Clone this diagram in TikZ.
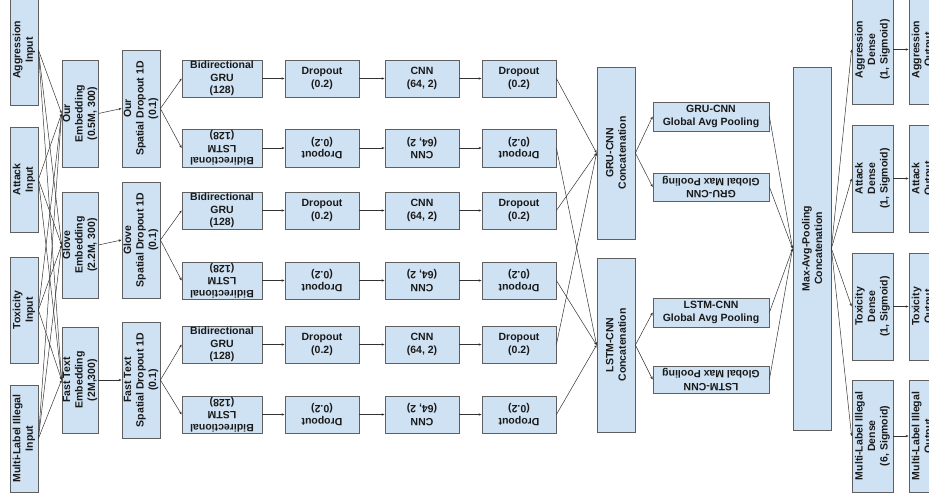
\documentclass[tikz,border=0pt]{standalone}
\usepackage{fontspec}
\setmainfont{Liberation Sans}
\usetikzlibrary{fit,arrows.meta}
\definecolor{boxfill}{HTML}{CFE2F3}
\definecolor{boxline}{HTML}{5F5F5F}
\definecolor{arr}{HTML}{333333}
\newcommand\bx[7]{\node[box, fit={(#2,#3) (#4,#5)}] (#1) {}; \node[txt, rotate=#6] (#1t) at (#1.center) {#7};}
\begin{document}
\begin{tikzpicture}[x=1pt,y=-1pt,
 box/.style={draw=boxline, fill=boxfill, line width=0.8pt, inner sep=0pt, rectangle},
 txt/.style={font=\fontsize{10.5}{12.5}\selectfont\bfseries, align=center, inner sep=0pt, text=black!90},
 con/.style={draw=arr, line width=0.5pt, -{Stealth[length=3pt,width=2.4pt]}}]
\useasboundingbox (0,0) rectangle (929,495);
\clip (0,0) rectangle (929,495);
% inputs
\bx{inAgg}{10}{-5}{38}{105}{90}{Aggression\\Input}
\bx{inAtt}{10}{127}{38}{232}{90}{Attack\\Input}
\bx{inTox}{10}{257}{38}{363}{90}{Toxicity\\Input}
\bx{inMul}{10}{385}{38}{492}{90}{Multi-Label Illegal\\Input}
% embeddings
\bx{embOur}{62}{60}{98}{167}{90}{Our\\Embedding\\(0.5M, 300)}
\bx{embGlo}{62}{192}{98}{298}{90}{Glove\\Embedding\\(2.2M, 300)}
\bx{embFT}{62}{327}{98}{433}{90}{Fast Text\\Embedding\\(2M,300)}
% spatial dropout
\bx{sdOur}{122}{50}{160}{167}{90}{Our\\Spatial Dropout 1D\\(0.1)}
\bx{sdGlo}{122}{182}{160}{298}{90}{Glove\\Spatial Dropout 1D\\(0.1)}
\bx{sdFT}{122}{322}{160}{438}{90}{Fast Text\\Spatial Dropout 1D\\(0.1)}
% rows
\foreach \r/\ya/\yb/\rot/\kind in {1/60/97/0/GRU,2/129/167/180/LSTM,3/192/229/0/GRU,4/262/299/180/LSTM,5/326/363/0/GRU,6/396/433/180/LSTM}{
  \bx{rnn\r}{182}{\ya}{262}{\yb}{\rot}{Bidirectional\\\kind\\(128)}
  \bx{da\r}{285}{\ya}{359}{\yb}{\rot}{Dropout\\(0.2)}
  \bx{cnn\r}{385}{\ya}{459}{\yb}{\rot}{CNN\\(64, 2)}
  \bx{db\r}{482}{\ya}{556}{\yb}{\rot}{Dropout\\(0.2)}
  \draw[con] (rnn\r.east) -- (da\r.west);
  \draw[con] (da\r.east) -- (cnn\r.west);
  \draw[con] (cnn\r.east) -- (db\r.west);
}
% concatenations
\bx{catGRU}{597}{67}{635}{239}{90}{GRU-CNN\\Concatenation}
\bx{catLSTM}{597}{258}{635}{432}{90}{LSTM-CNN\\Concatenation}
% pooling
\bx{pGA}{653}{102}{769}{131}{0}{GRU-CNN\\Global Avg Pooling}
\bx{pGM}{653}{173}{769}{201}{180}{GRU-CNN\\Global Max Pooling}
\bx{pLA}{653}{298}{769}{327}{0}{LSTM-CNN\\Global Avg Pooling}
\bx{pLM}{653}{366}{769}{393}{180}{LSTM-CNN\\Global Max Pooling}
% max-avg
\bx{mac}{793}{67}{831}{430}{90}{Max-Avg-Pooling\\Concatenation}
% dense
\bx{dAgg}{852}{-5}{893}{104}{90}{Aggression\\Dense\\(1, Sigmoid)}
\bx{dAtt}{852}{125}{893}{232}{90}{Attack\\Dense\\(1, Sigmoid)}
\bx{dTox}{852}{253}{893}{360}{90}{Toxicity\\Dense\\(1, Sigmoid)}
\bx{dMul}{852}{380}{893}{492}{90}{Multi-Label Illegal\\Dense\\(6, Sigmoid)}
% outputs
\bx{oAgg}{909}{-5}{937}{104}{90}{Aggression\\Output}
\bx{oAtt}{909}{125}{937}{232}{90}{Attack\\Output}
\bx{oTox}{909}{253}{937}{360}{90}{Toxicity\\Output}
\bx{oMul}{909}{380}{937}{492}{90}{Multi-Label Illegal\\Output}
% connectors
\foreach \i in {inAgg,inAtt,inTox,inMul}{
  \foreach \e in {embOur,embGlo,embFT}{\draw[con] (\i.east) -- (\e.west);}}
\draw[con] (embOur.east) -- (sdOur.west);
\draw[con] (embGlo.east) -- (sdGlo.west);
\draw[con] (embFT.east) -- (sdFT.west);
\draw[con] (sdOur.east) -- (rnn1.west);
\draw[con] (sdOur.east) -- (rnn2.west);
\draw[con] (sdGlo.east) -- (rnn3.west);
\draw[con] (sdGlo.east) -- (rnn4.west);
\draw[con] (sdFT.east) -- (rnn5.west);
\draw[con] (sdFT.east) -- (rnn6.west);
\foreach \r in {1,3,5}{\draw[con] (db\r.east) -- (catGRU.west);}
\foreach \r in {2,4,6}{\draw[con] (db\r.east) -- (catLSTM.west);}
\draw[con] (catGRU.east) -- (pGA.west);
\draw[con] (catGRU.east) -- (pGM.west);
\draw[con] (catLSTM.east) -- (pLA.west);
\draw[con] (catLSTM.east) -- (pLM.west);
\foreach \p in {pGA,pGM,pLA,pLM}{\draw[con] (\p.east) -- (mac.west);}
\foreach \d in {dAgg,dAtt,dTox,dMul}{\draw[con] (mac.east) -- (\d.west);}
\draw[con] (dAgg.east) -- (oAgg.west);
\draw[con] (dAtt.east) -- (oAtt.west);
\draw[con] (dTox.east) -- (oTox.west);
\draw[con] (dMul.east) -- (oMul.west);
\end{tikzpicture}
\end{document}
